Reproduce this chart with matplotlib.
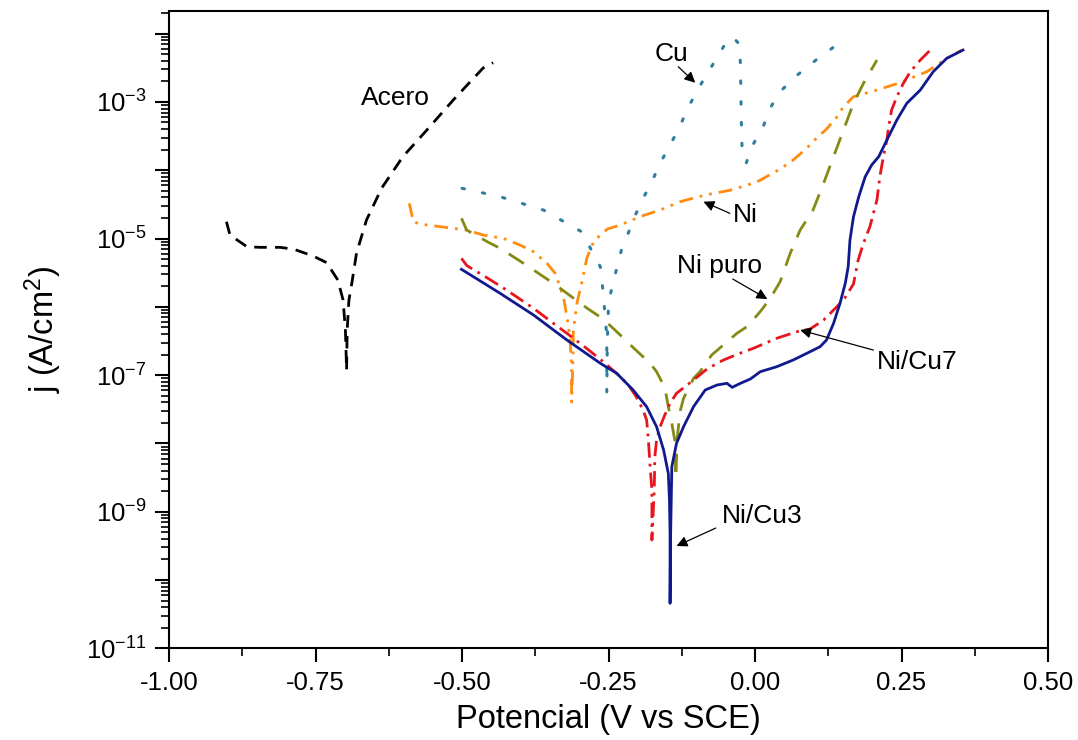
import numpy as np
import matplotlib
matplotlib.use("Agg")
import matplotlib.pyplot as plt
from matplotlib.ticker import LogLocator, FuncFormatter, MultipleLocator, FormatStrFormatter

plt.rcParams['font.family'] = ['Liberation Sans', 'DejaVu Sans']
plt.rcParams['mathtext.fontset'] = 'custom'
plt.rcParams['mathtext.rm'] = 'Liberation Sans'
plt.rcParams['mathtext.it'] = 'Liberation Sans:italic'
plt.rcParams['mathtext.bf'] = 'Liberation Sans:bold'

# Curvas de polarizacion: potencial (V vs SCE) y log10 j (A/cm2)
acero_v = [-0.902, -0.896, -0.867, -0.845, -0.811, -0.788, -0.754, -0.731, -0.712, -0.703,
           -0.699, -0.697, -0.696, -0.693, -0.688, -0.680, -0.663, -0.637, -0.601, -0.560,
           -0.515, -0.464, -0.447]
acero_logj = [-4.754, -4.949, -5.120, -5.129, -5.129, -5.154, -5.256, -5.354, -5.607, -5.900,
              -6.340, -6.926, -6.340, -5.900, -5.651, -5.211, -4.728, -4.260, -3.802, -3.411,
              -2.972, -2.503, -2.426]

cu_v = [-0.500, -0.435, -0.361, -0.296, -0.264, -0.259, -0.253, -0.253, -0.253, -0.252,
        -0.250, -0.244, -0.236, -0.228, -0.216, -0.205, -0.191, -0.176, -0.162, -0.146,
        -0.129, -0.116, -0.101, -0.084, -0.065, -0.047, -0.038, -0.027, -0.025, -0.024,
        -0.023, -0.022, -0.015, -0.005, 0.013, 0.024, 0.041, 0.070, 0.104, 0.139]
cu_logj = [-4.265, -4.388, -4.583, -4.900, -5.413, -5.802, -6.438, -6.925, -7.262, -6.486,
           -5.949, -5.706, -5.436, -5.168, -4.912, -4.670, -4.411, -4.168, -3.899, -3.646,
           -3.372, -3.119, -2.865, -2.621, -2.353, -2.094, -2.050, -2.152, -2.426, -2.933,
           -3.436, -3.704, -3.895, -3.646, -3.387, -3.119, -2.865, -2.621, -2.387, -2.167]

ni_v = [-0.590, -0.583, -0.572, -0.526, -0.492, -0.464, -0.430, -0.401, -0.378, -0.355,
        -0.341, -0.327, -0.321, -0.316, -0.313, -0.313, -0.311, -0.310, -0.304, -0.296,
        -0.287, -0.275, -0.252, -0.230, -0.210, -0.188, -0.162, -0.128, -0.085, -0.041,
        0.003, 0.043, 0.065, 0.088, 0.105, 0.122, 0.138, 0.151, 0.168, 0.208,
        0.247, 0.293, 0.327, 0.353]
ni_logj = [-4.485, -4.754, -4.788, -4.839, -4.876, -4.949, -4.997, -5.095, -5.193, -5.363,
           -5.510, -5.852, -6.145, -6.438, -6.877, -7.394, -6.867, -6.340, -5.949, -5.656,
           -5.286, -5.037, -4.861, -4.802, -4.729, -4.656, -4.583, -4.461, -4.363, -4.290,
           -4.173, -3.982, -3.851, -3.679, -3.529, -3.397, -3.240, -3.070, -2.924, -2.826,
           -2.719, -2.558, -2.362, -2.240]

nipuro_v = [-0.501, -0.492, -0.456, -0.435, -0.395, -0.378, -0.344, -0.321, -0.287, -0.259,
            -0.230, -0.208, -0.179, -0.168, -0.154, -0.148, -0.142, -0.137, -0.135, -0.133,
            -0.128, -0.122, -0.105, -0.094, -0.074, -0.031, -0.012, 0.011, 0.026, 0.043,
            0.060, 0.077, 0.099, 0.117, 0.134, 0.151, 0.168, 0.185, 0.208]
nipuro_logj = [-4.704, -4.876, -5.051, -5.143, -5.363, -5.461, -5.656, -5.802, -6.018, -6.179,
               -6.413, -6.596, -6.827, -6.950, -7.182, -7.463, -7.706, -7.950, -8.507, -7.950,
               -7.536, -7.340, -7.047, -6.950, -6.706, -6.388, -6.281, -6.047, -5.876, -5.630,
               -5.217, -4.876, -4.583, -4.192, -3.802, -3.411, -3.020, -2.728, -2.387]

nicu7_v = [-0.501, -0.492, -0.458, -0.424, -0.378, -0.344, -0.321, -0.287, -0.259, -0.235,
           -0.216, -0.203, -0.191, -0.185, -0.182, -0.179, -0.176, -0.176, -0.176, -0.172,
           -0.171, -0.168, -0.162, -0.154, -0.145, -0.134, -0.105, -0.082, -0.054, -0.026,
           -0.003, 0.037, 0.071, 0.094, 0.117, 0.134, 0.151, 0.168, 0.176, 0.185,
           0.196, 0.208, 0.213, 0.219, 0.225, 0.228, 0.233, 0.242, 0.253, 0.265,
           0.282, 0.302]
nicu7_logj = [-5.290, -5.395, -5.571, -5.754, -6.022, -6.242, -6.388, -6.611, -6.804, -6.984,
              -7.145, -7.313, -7.511, -7.657, -7.950, -8.341, -8.682, -9.048, -9.414, -8.682,
              -8.195, -7.950, -7.756, -7.584, -7.413, -7.266, -7.072, -6.911, -6.779, -6.681,
              -6.608, -6.461, -6.365, -6.325, -6.193, -6.047, -5.900, -5.666, -5.315, -5.070,
              -4.827, -4.436, -4.095, -3.802, -3.558, -3.363, -3.119, -2.924, -2.728, -2.558,
              -2.387, -2.215]

nicu3_v = [-0.501, -0.435, -0.378, -0.321, -0.264, -0.236, -0.208, -0.185, -0.168, -0.156,
           -0.148, -0.146, -0.145, -0.145, -0.144, -0.142, -0.134, -0.122, -0.105, -0.085,
           -0.065, -0.048, -0.039, -0.025, -0.008, 0.009, 0.037, 0.065, 0.094, 0.111,
           0.122, 0.134, 0.145, 0.154, 0.159, 0.162, 0.168, 0.177, 0.188, 0.199,
           0.211, 0.225, 0.242, 0.259, 0.282, 0.304, 0.327, 0.355]
nicu3_logj = [-5.451, -5.802, -6.120, -6.486, -6.827, -6.974, -7.218, -7.463, -7.756, -8.097,
              -8.438, -8.829, -9.316, -10.341, -9.316, -8.341, -7.999, -7.756, -7.463, -7.218,
              -7.145, -7.120, -7.179, -7.120, -7.057, -6.950, -6.877, -6.779, -6.657, -6.584,
              -6.486, -6.242, -5.949, -5.656, -5.413, -5.022, -4.681, -4.388, -4.095, -3.924,
              -3.802, -3.558, -3.265, -3.020, -2.826, -2.558, -2.362, -2.240]

fig = plt.figure(figsize=(10.78, 7.40), dpi=100)
ax = fig.add_axes([0.1568, 0.1239, 0.8154, 0.8612])

def j(v):
    return 10 ** np.array(v)

ax.plot(acero_v, j(acero_logj), color='black', lw=2, dashes=(4.5, 3))
ax.plot(cu_v, j(cu_logj), color='#2e7f9f', lw=2.2, dashes=(0.8, 6), dash_capstyle='round')
ax.plot(ni_v, j(ni_logj), color='#ff8c10', lw=2, dashes=(5, 2.5, 1, 2.5, 1, 2.5))
ax.plot(nipuro_v, j(nipuro_logj), color='#858a14', lw=2, dashes=(6.5, 4.5))
ax.plot(nicu7_v, j(nicu7_logj), color='#e8141e', lw=2, dashes=(5.5, 2.2, 1, 2.2))
ax.plot(nicu3_v, j(nicu3_logj), color='#101a8e', lw=2)

ax.set_yscale('log')
ax.set_xlim(-1.0, 0.5)
ax.set_ylim(1e-11, 10 ** -1.669)

ax.xaxis.set_major_locator(MultipleLocator(0.25))
ax.xaxis.set_minor_locator(MultipleLocator(0.125))
ax.xaxis.set_major_formatter(FormatStrFormatter('%.2f'))

ax.yaxis.set_major_locator(LogLocator(base=10, numticks=30))
ax.yaxis.set_minor_locator(LogLocator(base=10, subs=np.arange(2, 10), numticks=30))

def ylab(y, pos):
    e = int(round(np.log10(y)))
    if e % 2 != 0:
        return r'$\mathregular{10^{%d}}$' % e
    return ''

ax.yaxis.set_major_formatter(FuncFormatter(ylab))

for s in ax.spines.values():
    s.set_linewidth(1.5)
ax.tick_params(which='major', direction='out', length=10, width=1.5, labelsize=18.5, pad=6)
ax.tick_params(which='minor', direction='out', length=5.5, width=1.2)
ax.tick_params(top=False, right=False, which='both')

ax.set_xlabel('Potencial (V vs SCE)', fontsize=23.5, labelpad=7)
ax.set_ylabel(r'j (A/cm$^\mathregular{2}$)', fontsize=23.5, labelpad=16)

# Etiquetas y flechas
arr = dict(arrowstyle='-|>', color='black', lw=0.9, mutation_scale=16, shrinkA=0, shrinkB=0)
ax.text(-0.614, 10 ** -2.943, 'Acero', fontsize=19, ha='center', va='center')
ax.text(-0.143, 10 ** -2.299, 'Cu', fontsize=19, ha='center', va='center')
ax.annotate('', xy=(-0.102, 10 ** -2.719), xytext=(-0.131, 10 ** -2.485), arrowprops=arr)
ax.text(-0.017, 10 ** -4.656, 'Ni', fontsize=19, ha='center', va='center')
ax.annotate('', xy=(-0.088, 10 ** -4.461), xytext=(-0.043, 10 ** -4.631), arrowprops=arr)
ax.text(-0.060, 10 ** -5.403, 'Ni puro', fontsize=19, ha='center', va='center')
ax.annotate('', xy=(0.021, 10 ** -5.886), xytext=(-0.038, 10 ** -5.593), arrowprops=arr)
ax.text(0.276, 10 ** -6.804, 'Ni/Cu7', fontsize=19, ha='center', va='center')
ax.annotate('', xy=(0.077, 10 ** -6.340), xytext=(0.202, 10 ** -6.633), arrowprops=arr)
ax.text(0.012, 10 ** -9.063, 'Ni/Cu3', fontsize=19, ha='center', va='center')
ax.annotate('', xy=(-0.134, 10 ** -9.502), xytext=(-0.067, 10 ** -9.239), arrowprops=arr)

fig.savefig('out.png', dpi=100)
